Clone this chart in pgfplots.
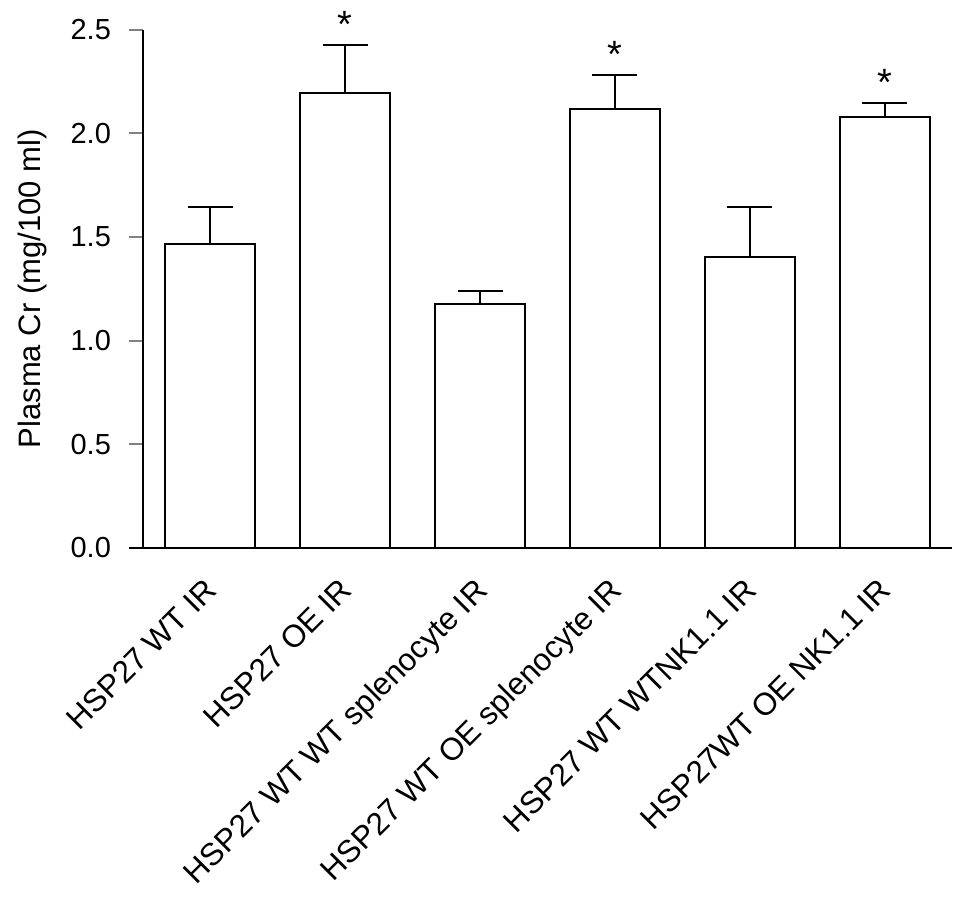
\documentclass[border=0pt]{standalone}
\usepackage{fontspec}
\setmainfont{Liberation Sans}
\usepackage{pgfplots}
\pgfplotsset{compat=1.18}
\begin{document}
\begin{tikzpicture}
\useasboundingbox (-71.5pt,-177.5pt) rectangle (412.5pt,274pt);
\begin{axis}[
  at={(0,0)}, anchor=south west,
  width=404.5pt, height=259.2pt, scale only axis,
  xmin=-0.5, xmax=5.5, ymin=0, ymax=2.5,
  axis lines*=left,
  axis line style={line width=1pt},
  x axis line style={shorten <=-7pt},
  xtick={0,1,2,3,4,5},
  xticklabels={HSP27 WT IR, HSP27 OE IR, HSP27 WT WT splenocyte IR, HSP27 WT OE splenocyte IR, HSP27 WT WTNK1.1 IR, HSP27WT OE NK1.1 IR},
  xtick style={draw=none},
  x tick label style={rotate=45, anchor=north east, font=\fontsize{15.7}{18}\selectfont, inner sep=1pt, xshift=-6.5pt, yshift=-1.5pt},
  ytick={0,0.5,1,1.5,2,2.5},
  yticklabel style={/pgf/number format/fixed, /pgf/number format/fixed zerofill, /pgf/number format/precision=1, font=\fontsize{14.5}{16}\selectfont, xshift=-5.5pt},
  /pgf/number format/assume math mode=true,
  ytick style={line width=1pt},
  tick align=outside,
  major tick length=7pt,
  ylabel={Plasma Cr (mg/100 ml)},
  ylabel style={font=\fontsize{15.5}{18}\selectfont, at={(axis description cs:-0.137,0.5)}, anchor=center},
  clip=false,
]
\addplot[ybar, bar width=45pt, fill=white, draw=black, line width=1pt, bar shift=0pt,
  error bars/.cd, y dir=plus, y explicit,
  error bar style={line width=1pt},
  error mark options={rotate=90, mark size=11.25pt, line width=1pt}]
  coordinates {
  (0,1.466) +- (0,0.177)
  (1,2.193) +- (0,0.235)
  (2,1.177) +- (0,0.063)
  (3,2.119) +- (0,0.163)
  (4,1.405) +- (0,0.238)
  (5,2.079) +- (0,0.069)
  };
\node[anchor=center, inner sep=0pt, yshift=10pt, font=\fontsize{19}{21}\selectfont] at (axis cs:1,2.428) {*};
\node[anchor=center, inner sep=0pt, yshift=10pt, font=\fontsize{19}{21}\selectfont] at (axis cs:3,2.282) {*};
\node[anchor=center, inner sep=0pt, yshift=10pt, font=\fontsize{19}{21}\selectfont] at (axis cs:5,2.148) {*};
\end{axis}
\end{tikzpicture}
\end{document}
